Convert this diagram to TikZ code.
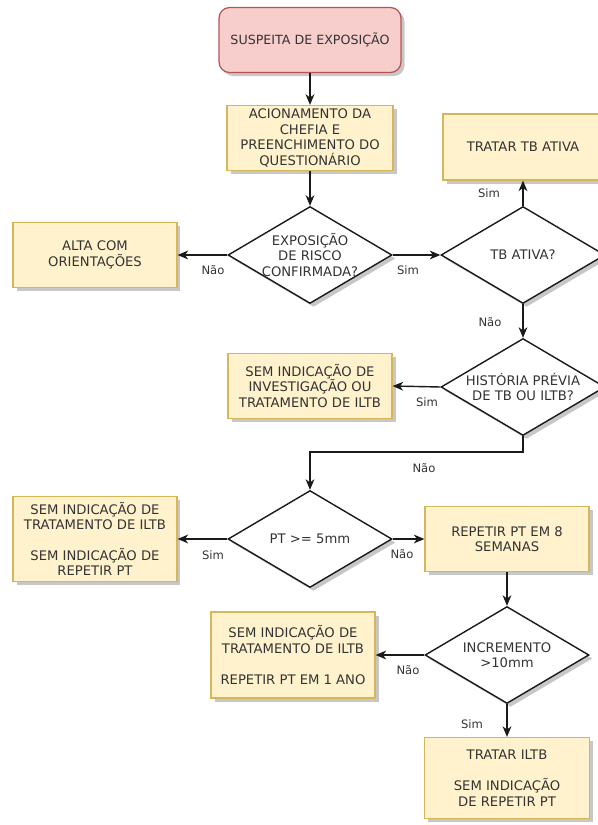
\documentclass[tikz,border=0pt]{standalone}
\usepackage{fontspec}
\setmainfont{DejaVu Sans}
\usetikzlibrary{arrows.meta,shapes.geometric,shadows}
\definecolor{flowstartfill}{HTML}{F8CECC}
\definecolor{flowstartborder}{HTML}{B85450}
\definecolor{flowstepfill}{HTML}{FFF2CC}
\definecolor{flowstepborder}{HTML}{D6B656}
\definecolor{flowtext}{HTML}{333333}
\definecolor{flowline}{HTML}{1A1A1A}
\tikzset{
  flow shadow/.style={
    drop shadow={shadow xshift=2pt, shadow yshift=-2pt, fill=black, opacity=0.22}
  },
  flow step/.style={
    rectangle, draw=flowstepborder, fill=flowstepfill, text=flowtext,
    line width=0.7pt, flow shadow,
    minimum width=3.28cm, minimum height=1.3cm,
    inner sep=2pt, align=center,
    font=\fontsize{7.5}{8.8}\selectfont
  },
  flow start/.style={
    flow step, rounded corners=6pt,
    draw=flowstartborder, fill=flowstartfill,
    minimum width=3.64cm, font=\fontsize{7.2}{8.8}\selectfont
  },
  flow decision/.style={
    diamond, aspect=1.7, draw=flowline, fill=white, text=flowtext,
    line width=0.8pt, flow shadow,
    minimum width=3.28cm, minimum height=1.94cm,
    inner xsep=-8pt, inner ysep=-4pt, align=center,
    font=\fontsize{7.5}{8.8}\selectfont
  },
  flow line/.style={
    draw=flowline, line width=0.8pt
  },
  flow arrow/.style={
    flow line, -{Stealth[length=6pt,width=5pt,inset=1.8pt]}
  },
  flow label/.style={
    text=flowtext, font=\fontsize{6.6}{8}\selectfont, inner sep=1pt
  }
}

\begin{document}
\begin{tikzpicture}[x=0.02cm,y=-0.02cm]
  \useasboundingbox (0,0) rectangle (598,825);
  \clip (0,0) rectangle (598,825);

  \node[flow start] (suspeita) at (310,40) {SUSPEITA DE EXPOSIÇÃO};
  \node[flow step,minimum width=3.32cm] (acionamento) at (310,138)
    {ACIONAMENTO DA\\CHEFIA E\\PREENCHIMENTO DO\\QUESTIONÁRIO};
  \node[flow decision] (exposicao) at (310,255) {EXPOSIÇÃO\\DE RISCO\\CONFIRMADA?};
  \node[flow step] (alta) at (95,255) {ALTA COM\\ORIENTAÇÕES};
  \node[flow decision] (tbativa) at (523,255) {TB ATIVA?};
  \node[flow step,minimum width=3.2cm,minimum height=1.32cm] (tratartb) at (523,147) {TRATAR TB ATIVA};
  \node[flow decision] (historia) at (523,387) {HISTÓRIA PRÉVIA\\DE TB OU ILTB?};
  \node[flow step] (seminvestigacao) at (310,386)
    {SEM INDICAÇÃO DE\\INVESTIGAÇÃO OU\\TRATAMENTO DE ILTB};
  \node[flow decision] (pt) at (310,539) {PT >= 5mm};
  \node[flow step,minimum height=1.7cm] (semtratamento) at (95,539)
    {SEM INDICAÇÃO DE\\TRATAMENTO DE ILTB\\[8.8pt]SEM INDICAÇÃO DE\\REPETIR PT};
  \node[flow step] (repetir) at (507,539) {REPETIR PT EM 8\\SEMANAS};
  \node[flow decision] (incremento) at (507,655) {INCREMENTO\\>10mm};
  \node[flow step,minimum height=1.72cm] (umano) at (293,655)
    {SEM INDICAÇÃO DE\\TRATAMENTO DE ILTB\\[8.8pt]REPETIR PT EM 1 ANO};
  \node[flow step,minimum width=3.3cm,minimum height=1.62cm] (tratariltb) at (507,778)
    {TRATAR ILTB\\[8.8pt]SEM INDICAÇÃO\\DE REPETIR PT};
  \coordinate (volta) at (523,452);

  \draw[flow arrow] (suspeita.south) -- (acionamento.north);
  \draw[flow arrow] (acionamento.south) -- (exposicao.north);
  \draw[flow arrow] (exposicao.west) -- (alta.east);
  \draw[flow arrow] (exposicao.east) -- (tbativa.west);
  \draw[flow arrow] (tbativa.north) -- (tratartb.south);
  \draw[flow arrow] (tbativa.south) -- (historia.north);
  \draw[flow arrow] (historia.west) -- (seminvestigacao.east);
  \draw[flow arrow] (historia.south) -- (volta) -| (pt.north);
  \draw[flow arrow] (pt.west) -- (semtratamento.east);
  \draw[flow arrow] (pt.east) -- (repetir.west);
  \draw[flow arrow] (repetir.south) -- (incremento.north);
  \draw[flow arrow] (incremento.west) -- (umano.east);
  \draw[flow arrow] (incremento.south) -- (tratariltb.north);

  \node[flow label] (naoalta) at (213,270) {Não};
  \node[flow label] (simexposicao) at (408,270) {Sim};
  \node[flow label] (simtb) at (489,193) {Sim};
  \node[flow label] (naotb) at (490,322) {Não};
  \node[flow label] (simhistoria) at (427,402) {Sim};
  \node[flow label] (naohistoria) at (424,468) {Não};
  \node[flow label] (simpt) at (213,555) {Sim};
  \node[flow label] (naopt) at (402,554) {Não};
  \node[flow label] (naoincremento) at (408,670) {Não};
  \node[flow label] (simincremento) at (472,724) {Sim};
\end{tikzpicture}
\end{document}
